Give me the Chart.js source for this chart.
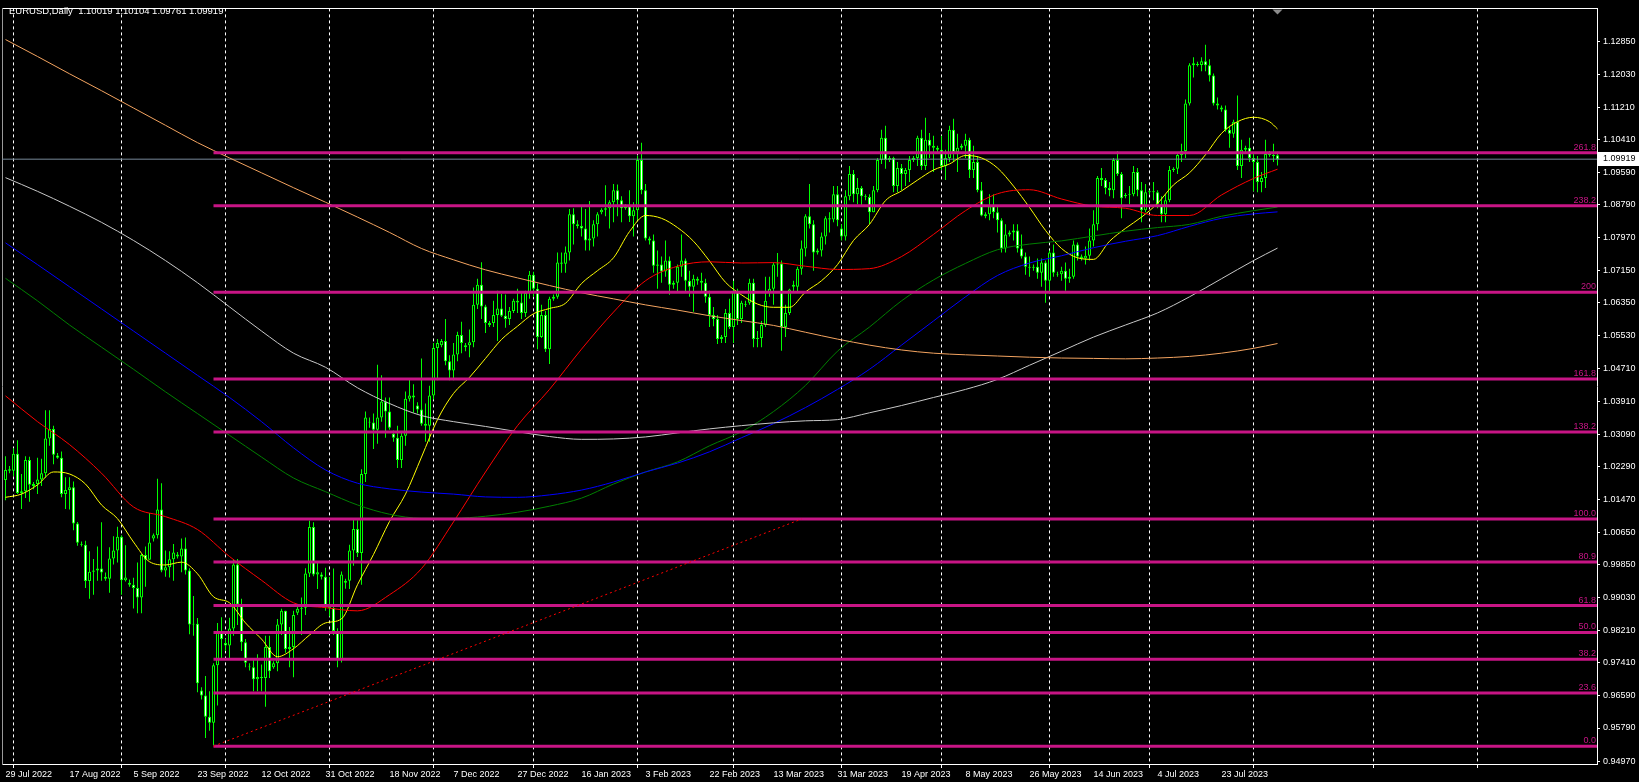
<!DOCTYPE html>
<html>
<head>
<meta charset="utf-8">
<script src="https://cdn.jsdelivr.net/npm/chart.js@4.4.1/dist/chart.umd.min.js"></script>
<style>
  html, body { margin: 0; padding: 0; background: #000; }
  canvas { display: block; }
</style>
</head>
<body>
<canvas id="chart" width="1639" height="782"></canvas>
<script>
// EURUSD daily bars, 29 Jul 2022 .. 8 Aug 2023 (broker also prints Sunday sessions)
var symbol = 'EURUSD,Daily';

var opens = [
  1.0195, 1.0222, 1.0218, 1.0260, 1.0163, 1.0167, 1.0245, 1.0180, 1.0185, 1.0196,
  1.0212, 1.0298, 1.0322, 1.0256, 1.0250, 1.0160, 1.0170, 1.0177, 1.0087, 1.0036,
  1.0034, 0.9944, 0.9967, 0.9970, 0.9975, 0.9955, 0.9950, 1.0000, 1.0020, 1.0054,
  0.9946, 0.9940, 0.9935, 0.9927, 0.9903, 1.0009, 0.9997, 1.0050, 1.0058, 1.0122,
  0.9970, 0.9978, 0.9998, 1.0010, 1.0005, 1.0025, 0.9970, 0.9836, 0.9838, 0.9672,
  0.9660, 0.9607, 0.9592, 0.9735, 0.9815, 0.9790, 0.9784, 0.9826, 0.9985, 0.9886,
  0.9792, 0.9732, 0.9730, 0.9700, 0.9706, 0.9703, 0.9780, 0.9730, 0.9740, 0.9836,
  0.9870, 0.9775, 0.9780, 0.9865, 0.9875, 0.9878, 0.9963, 1.0078, 0.9960, 0.9960,
  0.9955, 0.9882, 0.9877, 0.9820, 0.9750, 0.9940, 0.9945, 1.0020, 1.0073, 1.0014,
  1.0210, 1.0340, 1.0338, 1.0320, 1.0350, 1.0390, 1.0365, 1.0310, 1.0300, 1.0245,
  1.0305, 1.0397, 1.0405, 1.0380, 1.0370, 1.0335, 1.0330, 1.0405, 1.0523, 1.0530,
  1.0540, 1.0490, 1.0467, 1.0507, 1.0555, 1.0525, 1.0530, 1.0537, 1.0630, 1.0680,
  1.0626, 1.0580, 1.0585, 1.0605, 1.0621, 1.0603, 1.0595, 1.0615, 1.0640, 1.0636,
  1.0610, 1.0660, 1.0705, 1.0670, 1.0550, 1.0605, 1.0520, 1.0645, 1.0650, 1.0735,
  1.0732, 1.0760, 1.0855, 1.0830, 1.0826, 1.0820, 1.0790, 1.0795, 1.0830, 1.0860,
  1.0866, 1.0870, 1.0885, 1.0915, 1.0890, 1.0870, 1.0875, 1.0850, 1.0865, 1.0990,
  1.0915, 1.0795, 1.0790, 1.0727, 1.0730, 1.0713, 1.0740, 1.0680, 1.0685, 1.0725,
  1.0740, 1.0690, 1.0675, 1.0695, 1.0690, 1.0685, 1.0650, 1.0605, 1.0595, 1.0545,
  1.0550, 1.0610, 1.0575, 1.0665, 1.0595, 1.0630, 1.0635, 1.0685, 1.0545, 1.0548,
  1.0580, 1.0660, 1.0670, 1.0730, 1.0733, 1.0575, 1.0610, 1.0680, 1.0675, 1.0720,
  1.0770, 1.0850, 1.0830, 1.0760, 1.0765, 1.0800, 1.0845, 1.0842, 1.0905, 1.0820,
  1.0800, 1.0900, 1.0955, 1.0905, 1.0920, 1.0900, 1.0898, 1.0860, 1.0915, 1.0990,
  1.1045, 1.0990, 1.0995, 1.0925, 1.0970, 1.0955, 1.0965, 1.0990, 1.0995, 1.1045,
  1.0975, 1.1040, 1.1025, 1.1020, 1.1015, 1.0975, 1.0995, 1.1065, 1.1010, 1.1020,
  1.1025, 1.1040, 1.0965, 1.0985, 1.0915, 1.0850, 1.0855, 1.0875, 1.0860, 1.0840,
  1.0770, 1.0805, 1.0810, 1.0815, 1.0770, 1.0750, 1.0725, 1.0722, 1.0725, 1.0710,
  1.0735, 1.0690, 1.0760, 1.0705, 1.0706, 1.0715, 1.0695, 1.0700, 1.0780, 1.0750,
  1.0745, 1.0752, 1.0790, 1.0830, 1.0945, 1.0940, 1.0920, 1.0915, 1.0990, 1.0955,
  1.0900, 1.0903, 1.0905, 1.0960, 1.0915, 1.0865, 1.0910, 1.0912, 1.0910, 1.0880,
  1.0855, 1.0890, 1.0965, 1.0968, 1.1002, 1.1012, 1.1130, 1.1225, 1.1228, 1.1226,
  1.1235, 1.1225, 1.1200, 1.1130, 1.1120, 1.1115, 1.1065, 1.1055, 1.1085, 1.0975,
  1.1015, 1.1020, 1.0995, 1.0985, 1.0935, 1.0945, 1.1005, 1.1002, 1.10019
];
var highs = [
  1.0254, 1.0230, 1.0274, 1.0294, 1.0210, 1.0254, 1.0253, 1.0190, 1.0250, 1.0248,
  1.0368, 1.0368, 1.0330, 1.0262, 1.0266, 1.0202, 1.0202, 1.0191, 1.0091, 1.0042,
  1.0044, 1.0018, 0.9999, 1.0030, 1.0090, 0.9965, 1.0028, 1.0055, 1.0079, 1.0058,
  1.0033, 0.9948, 0.9952, 0.9990, 1.0012, 1.0030, 1.0113, 1.0062, 1.0198, 1.0187,
  1.0020, 1.0018, 1.0036, 1.0016, 1.0050, 1.0052, 0.9976, 0.9907, 0.9852, 0.9680,
  0.9708, 0.9670, 0.9740, 0.9840, 0.9854, 0.9800, 0.9853, 0.9999, 0.9999, 0.9900,
  0.9800, 0.9740, 0.9748, 0.9762, 0.9737, 0.9808, 0.9808, 0.9745, 0.9850, 0.9875,
  0.9870, 0.9830, 0.9870, 0.9880, 0.9903, 0.9976, 1.0094, 1.0090, 0.9990, 0.9966,
  0.9977, 0.9954, 0.9975, 0.9827, 0.9968, 0.9950, 1.0034, 1.0096, 1.0095, 1.0222,
  1.0365, 1.0350, 1.0360, 1.0481, 1.0455, 1.0400, 1.0400, 1.0318, 1.0330, 1.0315,
  1.0415, 1.0448, 1.0433, 1.0388, 1.0497, 1.0385, 1.0429, 1.0535, 1.0545, 1.0545,
  1.0595, 1.0505, 1.0535, 1.0563, 1.0588, 1.0535, 1.0569, 1.0673, 1.0695, 1.0736,
  1.0630, 1.0590, 1.0640, 1.0665, 1.0657, 1.0656, 1.0625, 1.0645, 1.0670, 1.0660,
  1.0665, 1.0714, 1.0712, 1.0683, 1.0630, 1.0615, 1.0650, 1.0656, 1.0760, 1.0760,
  1.0775, 1.0868, 1.0870, 1.0840, 1.0875, 1.0868, 1.0888, 1.0840, 1.0860, 1.0870,
  1.0927, 1.0890, 1.0930, 1.0929, 1.0900, 1.0880, 1.0915, 1.0885, 1.1000, 1.1033,
  1.0930, 1.0800, 1.0805, 1.0765, 1.0750, 1.0790, 1.0750, 1.0690, 1.0730, 1.0805,
  1.0745, 1.0715, 1.0705, 1.0700, 1.0710, 1.0695, 1.0665, 1.0625, 1.0605, 1.0555,
  1.0620, 1.0645, 1.0690, 1.0670, 1.0640, 1.0640, 1.0695, 1.0695, 1.0565, 1.0590,
  1.0700, 1.0700, 1.0735, 1.0759, 1.0740, 1.0630, 1.0670, 1.0690, 1.0725, 1.0790,
  1.0855, 1.0930, 1.0840, 1.0770, 1.0810, 1.0850, 1.0860, 1.0925, 1.0925, 1.0830,
  1.0915, 1.0975, 1.0965, 1.0945, 1.0925, 1.0905, 1.0905, 1.0925, 1.0995, 1.1065,
  1.1075, 1.1000, 1.0998, 1.0985, 1.0980, 1.0970, 1.1000, 1.1000, 1.1050, 1.1065,
  1.1095, 1.1057, 1.1050, 1.1025, 1.1050, 1.1015, 1.1075, 1.1092, 1.1055, 1.1030,
  1.1055, 1.1045, 1.1025, 1.1000, 1.0935, 1.0860, 1.0905, 1.0905, 1.0875, 1.0845,
  1.0830, 1.0815, 1.0830, 1.0830, 1.0805, 1.0760, 1.0750, 1.0730, 1.0745, 1.0745,
  1.0740, 1.0765, 1.0780, 1.0712, 1.0725, 1.0735, 1.0720, 1.0790, 1.0785, 1.0755,
  1.0775, 1.0820, 1.0865, 1.0950, 1.0970, 1.0945, 1.0935, 1.0995, 1.1012, 1.0960,
  1.0908, 1.0925, 1.0975, 1.0970, 1.0935, 1.0930, 1.0915, 1.0935, 1.0915, 1.0900,
  1.0905, 1.0975, 1.0972, 1.1010, 1.1030, 1.1140, 1.1230, 1.1245, 1.1234, 1.1245,
  1.1276, 1.1240, 1.1205, 1.1145, 1.1125, 1.1125, 1.1075, 1.1090, 1.1150, 1.1040,
  1.1025, 1.1045, 1.1010, 1.1000, 1.0960, 1.1040, 1.1012, 1.1030, 1.10104
];
var lows = [
  1.0145, 1.0212, 1.0205, 1.0160, 1.0123, 1.0150, 1.0141, 1.0172, 1.0160, 1.0180,
  1.0202, 1.0280, 1.0234, 1.0248, 1.0152, 1.0123, 1.0122, 1.0070, 1.0032, 1.0030,
  0.9927, 0.9900, 0.9910, 0.9945, 0.9945, 0.9945, 0.9915, 0.9985, 0.9990, 0.9910,
  0.9943, 0.9930, 0.9876, 0.9864, 0.9864, 0.9930, 0.9997, 1.0042, 1.0050, 0.9966,
  0.9955, 0.9953, 0.9945, 1.0000, 0.9966, 0.9960, 0.9812, 0.9808, 0.9668, 0.9650,
  0.9554, 0.9572, 0.9536, 0.9635, 0.9748, 0.9770, 0.9750, 0.9808, 0.9835, 0.9770,
  0.9730, 0.9722, 0.9670, 0.9670, 0.9670, 0.9632, 0.9703, 0.9726, 0.9720, 0.9810,
  0.9766, 0.9730, 0.9705, 0.9860, 0.9810, 0.9860, 0.9954, 0.9956, 0.9924, 0.9948,
  0.9870, 0.9856, 0.9810, 0.9730, 0.9742, 0.9925, 0.9924, 0.9982, 1.0004, 0.9935,
  1.0190, 1.0325, 1.0272, 1.0285, 1.0340, 1.0300, 1.0320, 1.0290, 1.0225, 1.0225,
  1.0280, 1.0390, 1.0362, 1.0360, 1.0330, 1.0290, 1.0290, 1.0395, 1.0443, 1.0525,
  1.0480, 1.0443, 1.0443, 1.0490, 1.0510, 1.0515, 1.0500, 1.0525, 1.0620, 1.0595,
  1.0560, 1.0575, 1.0575, 1.0540, 1.0600, 1.0573, 1.0580, 1.0610, 1.0610, 1.0595,
  1.0600, 1.0645, 1.0650, 1.0520, 1.0548, 1.0513, 1.0483, 1.0640, 1.0645, 1.0710,
  1.0710, 1.0740, 1.0780, 1.0820, 1.0800, 1.0765, 1.0765, 1.0775, 1.0800, 1.0855,
  1.0850, 1.0820, 1.0835, 1.0850, 1.0835, 1.0866, 1.0836, 1.0800, 1.0840, 1.0905,
  1.0790, 1.0780, 1.0710, 1.0670, 1.0685, 1.0700, 1.0655, 1.0670, 1.0660, 1.0700,
  1.0660, 1.0650, 1.0613, 1.0680, 1.0665, 1.0635, 1.0575, 1.0577, 1.0533, 1.0535,
  1.0535, 1.0570, 1.0535, 1.0580, 1.0585, 1.0625, 1.0630, 1.0525, 1.0525, 1.0525,
  1.0575, 1.0650, 1.0630, 1.0700, 1.0516, 1.0550, 1.0605, 1.0660, 1.0660, 1.0705,
  1.0750, 1.0820, 1.0715, 1.0755, 1.0750, 1.0780, 1.0810, 1.0835, 1.0825, 1.0790,
  1.0790, 1.0890, 1.0885, 1.0880, 1.0875, 1.0890, 1.0830, 1.0860, 1.0910, 1.0980,
  1.0968, 1.0985, 1.0910, 1.0910, 1.0915, 1.0925, 1.0935, 1.0985, 1.0975, 1.0965,
  1.0965, 1.0995, 1.0960, 1.1010, 1.0965, 1.0940, 1.0985, 1.0985, 1.0960, 1.1015,
  1.0995, 1.0945, 1.0945, 1.0910, 1.0850, 1.0845, 1.0840, 1.0845, 1.0810, 1.0760,
  1.0760, 1.0800, 1.0790, 1.0760, 1.0745, 1.0705, 1.0700, 1.0715, 1.0695, 1.0675,
  1.0635, 1.0660, 1.0700, 1.0700, 1.0690, 1.0665, 1.0685, 1.0695, 1.0740, 1.0740,
  1.0730, 1.0740, 1.0775, 1.0815, 1.0925, 1.0905, 1.0900, 1.0895, 1.0950, 1.0845,
  1.0895, 1.0880, 1.0900, 1.0900, 1.0835, 1.0860, 1.0905, 1.0890, 1.0870, 1.0835,
  1.0835, 1.0885, 1.0960, 1.0955, 1.0985, 1.0995, 1.1125, 1.1195, 1.1222, 1.1210,
  1.1210, 1.1185, 1.1125, 1.1115, 1.1110, 1.1060, 1.1020, 1.1045, 1.0965, 1.0945,
  1.1010, 1.0985, 1.0912, 1.0910, 1.0910, 1.0920, 1.0998, 1.0985, 1.09761
];
var closes = [
  1.0220, 1.0218, 1.0260, 1.0163, 1.0167, 1.0245, 1.0183, 1.0185, 1.0196, 1.0212,
  1.0298, 1.0322, 1.0258, 1.0250, 1.0160, 1.0170, 1.0177, 1.0087, 1.0039, 1.0034,
  0.9944, 0.9967, 0.9970, 0.9975, 0.9965, 0.9950, 1.0000, 1.0020, 1.0054, 0.9946,
  0.9953, 0.9935, 0.9927, 0.9903, 1.0009, 0.9997, 1.0040, 1.0058, 1.0122, 0.9970,
  0.9978, 0.9998, 1.0015, 1.0005, 1.0025, 0.9970, 0.9836, 0.9838, 0.9690, 0.9660,
  0.9607, 0.9592, 0.9735, 0.9815, 0.9800, 0.9784, 0.9826, 0.9985, 0.9886, 0.9792,
  0.9741, 0.9730, 0.9700, 0.9706, 0.9703, 0.9780, 0.9720, 0.9740, 0.9836, 0.9870,
  0.9775, 0.9780, 0.9860, 0.9875, 0.9878, 0.9963, 1.0078, 0.9960, 0.9966, 0.9955,
  0.9882, 0.9877, 0.9820, 0.9750, 0.9960, 0.9945, 1.0020, 1.0073, 1.0014, 1.0210,
  1.0350, 1.0338, 1.0320, 1.0350, 1.0390, 1.0365, 1.0325, 1.0300, 1.0245, 1.0305,
  1.0397, 1.0405, 1.0400, 1.0370, 1.0335, 1.0330, 1.0405, 1.0523, 1.0535, 1.0540,
  1.0490, 1.0467, 1.0507, 1.0555, 1.0535, 1.0530, 1.0537, 1.0630, 1.0680, 1.0626,
  1.0585, 1.0585, 1.0605, 1.0621, 1.0603, 1.0595, 1.0615, 1.0640, 1.0636, 1.0610,
  1.0660, 1.0705, 1.0670, 1.0550, 1.0605, 1.0520, 1.0645, 1.0650, 1.0735, 1.0732,
  1.0760, 1.0855, 1.0830, 1.0826, 1.0820, 1.0790, 1.0795, 1.0830, 1.0855, 1.0866,
  1.0870, 1.0885, 1.0915, 1.0890, 1.0870, 1.0875, 1.0850, 1.0865, 1.0990, 1.0915,
  1.0795, 1.0790, 1.0727, 1.0730, 1.0713, 1.0740, 1.0680, 1.0685, 1.0725, 1.0740,
  1.0690, 1.0675, 1.0695, 1.0690, 1.0685, 1.0650, 1.0605, 1.0595, 1.0545, 1.0550,
  1.0610, 1.0575, 1.0665, 1.0595, 1.0635, 1.0632, 1.0685, 1.0545, 1.0548, 1.0580,
  1.0640, 1.0670, 1.0730, 1.0733, 1.0575, 1.0610, 1.0668, 1.0675, 1.0720, 1.0770,
  1.0850, 1.0830, 1.0760, 1.0765, 1.0800, 1.0845, 1.0842, 1.0905, 1.0840, 1.0800,
  1.0900, 1.0955, 1.0905, 1.0920, 1.0900, 1.0898, 1.0860, 1.0915, 1.0990, 1.1045,
  1.0990, 1.0995, 1.0925, 1.0970, 1.0955, 1.0965, 1.0990, 1.0995, 1.1045, 1.0975,
  1.1040, 1.1025, 1.1020, 1.1015, 1.0975, 1.0995, 1.1065, 1.1010, 1.1020, 1.1025,
  1.1040, 1.0965, 1.0985, 1.0915, 1.0852, 1.0855, 1.0875, 1.0860, 1.0840, 1.0770,
  1.0805, 1.0810, 1.0815, 1.0770, 1.0750, 1.0725, 1.0722, 1.0725, 1.0710, 1.0735,
  1.0690, 1.0760, 1.0710, 1.0706, 1.0715, 1.0695, 1.0700, 1.0780, 1.0750, 1.0745,
  1.0752, 1.0790, 1.0830, 1.0945, 1.0940, 1.0920, 1.0915, 1.0990, 1.0955, 1.0895,
  1.0903, 1.0905, 1.0960, 1.0915, 1.0865, 1.0910, 1.0912, 1.0910, 1.0880, 1.0855,
  1.0890, 1.0965, 1.0968, 1.1002, 1.1012, 1.1130, 1.1225, 1.1230, 1.1226, 1.1235,
  1.1225, 1.1200, 1.1130, 1.1125, 1.1115, 1.1065, 1.1055, 1.1085, 1.0975, 1.1015,
  1.1020, 1.0995, 1.0985, 1.0935, 1.0945, 1.1005, 1.1002, 1.1000, 1.09919
];

// time axis: label text starts at its bar; month starts get the dotted separators
var dateLabels = ['29 Jul 2022', '17 Aug 2022', '5 Sep 2022', '23 Sep 2022', '12 Oct 2022',
  '31 Oct 2022', '18 Nov 2022', '7 Dec 2022', '27 Dec 2022', '16 Jan 2023', '3 Feb 2023',
  '22 Feb 2023', '13 Mar 2023', '31 Mar 2023', '19 Apr 2023', '8 May 2023', '26 May 2023',
  '14 Jun 2023', '4 Jul 2023', '23 Jul 2023'];
var dateBars = [0, 16, 32, 48, 64, 80, 96, 112, 128, 144, 160, 176, 192, 208, 224, 240, 256, 272, 288, 304];
var monthBars = [2, 29, 55, 81, 107, 132, 158, 182, 209, 234, 261, 286, 312, 342, 368];

var priceTicks = [1.12850, 1.12030, 1.11210, 1.10410, 1.09590, 1.08790, 1.07970, 1.07150,
  1.06350, 1.05530, 1.04710, 1.03910, 1.03090, 1.02290, 1.01470, 1.00650, 0.99850,
  0.99030, 0.98210, 0.97410, 0.96590, 0.95790, 0.94970];

// fibonacci levels drawn from the 28 Sep 2022 low
var fibNames = ['0.0', '23.6', '38.2', '50.0', '61.8', '80.9', '100.0', '138.2', '161.8', '200', '238.2', '261.8'];
var fibLevels = [0.95339, 0.96662, 0.97500, 0.98165, 0.98830, 0.99913, 1.00980, 1.03140, 1.04460, 1.06613, 1.08763, 1.10076];
var fibStartBar = 52;
var trendBars = [52, 199];
var trendPrices = [0.95339, 1.00980];

// moving averages
var maBars = [0, 8, 16, 24, 32, 40, 48, 56, 64, 72, 80, 88, 96, 104, 112, 120, 128, 136, 144, 152,
  160, 168, 176, 184, 192, 200, 208, 216, 224, 232, 240, 248, 256, 264, 272, 280, 288, 296, 304, 312, 318];
var maRed = [1.0404, 1.0340, 1.0283, 1.0212, 1.0128, 1.0104, 1.0072, 1.0005, 0.9946, 0.9890,
  0.9878, 0.9870, 0.9910, 0.9975, 1.0091, 1.0215, 1.0330, 1.0420, 1.0520, 1.0612,
  1.0690, 1.0726, 1.0737, 1.0734, 1.0735, 1.0726, 1.0718, 1.0720, 1.0750, 1.0805,
  1.0864, 1.0906, 1.0916, 1.0893, 1.0875, 1.0870, 1.0852, 1.0852, 1.0903, 1.0944, 1.0967];
var maGreen = [1.0696, 1.0640, 1.0580, 1.0525, 1.0470, 1.0414, 1.0360, 1.0306, 1.0252, 1.0200,
  1.0166, 1.0133, 1.0110, 1.0100, 1.0100, 1.0105, 1.0115, 1.0130, 1.0150, 1.0185,
  1.0215, 1.0240, 1.0280, 1.0315, 1.0365, 1.0430, 1.0515, 1.0575, 1.0640, 1.0692,
  1.0733, 1.0767, 1.0781, 1.0789, 1.0801, 1.0813, 1.0822, 1.0830, 1.0850, 1.0864, 1.0873];
var maBlue = [1.0784, 1.0730, 1.0675, 1.0620, 1.0565, 1.0510, 1.0455, 1.0400, 1.0340, 1.0275,
  1.0220, 1.0187, 1.0173, 1.0165, 1.0160, 1.0153, 1.0152, 1.0158, 1.0170, 1.0190,
  1.0215, 1.0237, 1.0265, 1.0300, 1.0335, 1.0375, 1.0420, 1.0470, 1.0530, 1.0590,
  1.0650, 1.0703, 1.0734, 1.0752, 1.0772, 1.0788, 1.0802, 1.0825, 1.0845, 1.0856, 1.0861];
var maSilver = [1.0946, 1.0912, 1.0875, 1.0835, 1.0790, 1.0740, 1.0685, 1.0625, 1.0565, 1.0510,
  1.0475, 1.0424, 1.0385, 1.0355, 1.0340, 1.0328, 1.0315, 1.0303, 1.0296, 1.0297,
  1.0302, 1.0312, 1.0322, 1.0330, 1.0337, 1.0342, 1.0345, 1.0362, 1.0380, 1.0400,
  1.0420, 1.0445, 1.0480, 1.0515, 1.0550, 1.0580, 1.0610, 1.0650, 1.0695, 1.0740, 1.0771];
var maOrange = [1.1289, 1.1247, 1.1204, 1.1162, 1.1119, 1.1076, 1.1033, 1.0995, 1.0958, 1.0921,
  1.0885, 1.0848, 1.0810, 1.0770, 1.0742, 1.0717, 1.0697, 1.0678, 1.0660, 1.0645,
  1.0630, 1.0617, 1.0603, 1.0591, 1.0579, 1.0562, 1.0545, 1.0530, 1.0518, 1.0510,
  1.0506, 1.0503, 1.0500, 1.0498, 1.0497, 1.0496, 1.0498, 1.0502, 1.0510, 1.0522, 1.0534];
var yellowBars = [0, 4, 8, 12, 16, 20, 24, 28, 32, 36, 40, 44, 48, 52, 56, 60, 64, 68, 72, 76,
  80, 84, 88, 92, 96, 100, 104, 108, 112, 116, 120, 124, 128, 132, 136, 140, 144, 148, 152, 156,
  160, 164, 168, 172, 176, 180, 184, 188, 192, 196, 200, 204, 208, 212, 216, 220, 224, 228, 232, 236,
  240, 244, 248, 252, 256, 260, 264, 268, 272, 276, 280, 284, 288, 292, 296, 300, 304, 308, 312, 316, 318];
var maYellow = [1.0152, 1.0160, 1.0183, 1.0215, 1.0210, 1.0185, 1.0133, 1.0099, 1.0041, 0.9992,
  0.9984, 0.9991, 0.9962, 0.9905, 0.9890, 0.9840, 0.9800, 0.9756, 0.9776, 0.9810,
  0.9840, 0.9850, 0.9935, 1.0010, 1.0092, 1.0160, 1.0252, 1.0345, 1.0410, 1.0450,
  1.0497, 1.0544, 1.0577, 1.0608, 1.0621, 1.0634, 1.0683, 1.0715, 1.0747, 1.0812,
  1.0852, 1.0845, 1.0822, 1.0788, 1.0739, 1.0686, 1.0655, 1.0632, 1.0624, 1.0624,
  1.0662, 1.0690, 1.0730, 1.0790, 1.0830, 1.0889, 1.0913, 1.0940, 1.0965, 1.0980,
  1.1001, 1.0995, 1.0970, 1.0925, 1.0872, 1.0815, 1.0770, 1.0747, 1.0743, 1.0788,
  1.0820, 1.0848, 1.0882, 1.0928, 1.0958, 1.1003, 1.1056, 1.1085, 1.1096, 1.1085, 1.1067];

var xMin = -0.875, xMax = 397.875;
var yMin = 0.94896, yMax = 1.13664;
var fontFamily = '"Liberation Sans", Arial, sans-serif';
var lime = '#00ff00', fibColor = '#c71585';

function pts(xs, ys) {
  return xs.map(function (x, k) { return { x: x, y: ys[k] }; });
}

var wicks = [], bodies = [], bodyFill = [];
for (var i = 0; i < closes.length; i++) {
  wicks.push({ x: i, y: [lows[i], highs[i]] });
  bodies.push({ x: i, y: [opens[i], closes[i]] });
  bodyFill.push(closes[i] >= opens[i] ? '#000000' : '#ffffff');
}
var last = closes.length - 1;

var xTicks = [];
dateBars.forEach(function (b, k) { xTicks.push({ value: b, text: dateLabels[k], month: false }); });
monthBars.forEach(function (b) { xTicks.push({ value: b, text: '', month: true }); });
xTicks.sort(function (a, b) { return a.value - b.value; });

function maLine(xs, ys, color) {
  return {
    type: 'line', data: pts(xs, ys), borderColor: color, borderWidth: 1,
    pointRadius: 0, cubicInterpolationMode: 'monotone', order: 5
  };
}

var datasets = [
  { type: 'bar', data: wicks, backgroundColor: lime, borderWidth: 0, barThickness: 1,
    grouped: false, inflateAmount: 0, order: 11 },
  { type: 'bar', data: bodies, backgroundColor: bodyFill, borderColor: lime, borderWidth: 1,
    borderSkipped: false, barThickness: 3, grouped: false, inflateAmount: 0, order: 10 },
  maLine(maBars, maOrange, '#f4a460'),
  maLine(maBars, maSilver, '#c8c8c8'),
  maLine(maBars, maBlue, '#0000ff'),
  maLine(maBars, maGreen, '#008000'),
  maLine(maBars, maRed, '#ff0000'),
  maLine(yellowBars, maYellow, '#ffff00'),
  { type: 'line', data: [{ x: xMin, y: closes[last] }, { x: xMax, y: closes[last] }],
    borderColor: '#778899', borderWidth: 1, pointRadius: 0, order: 6 },
  { type: 'line', data: pts(trendBars, trendPrices), borderColor: '#ff0000', borderWidth: 1,
    borderDash: [2, 3], pointRadius: 0, order: 1 }
];
fibLevels.forEach(function (v) {
  datasets.push({ type: 'line', data: [{ x: fibStartBar, y: v }, { x: xMax, y: v }],
    borderColor: fibColor, borderWidth: 3, pointRadius: 0, order: 2 });
});

var overlay = {
  id: 'overlay',
  afterDatasetsDraw: function (chart) {
    var ctx = chart.ctx, area = chart.chartArea, ys = chart.scales.y, xs = chart.scales.x;
    ctx.save();
    ctx.font = '9px ' + fontFamily;
    ctx.fillStyle = fibColor;
    ctx.textAlign = 'right';
    ctx.textBaseline = 'alphabetic';
    fibLevels.forEach(function (v, k) {
      ctx.fillText(fibNames[k], area.right - 1, ys.getPixelForValue(v) - 3);
    });
    ctx.font = '9.5px ' + fontFamily;
    ctx.fillStyle = '#ffffff';
    ctx.textAlign = 'left';
    var head = symbol + '  ' + [opens[last], highs[last], lows[last], closes[last]]
      .map(function (v) { return v.toFixed(5); }).join(' ');
    ctx.fillText(head, 9, 14);
    // chart-shift marker above the last bar
    var sx = xs.getPixelForValue(last);
    ctx.fillStyle = '#8c8c8c';
    ctx.beginPath();
    ctx.moveTo(sx - 5, area.top + 1);
    ctx.lineTo(sx + 5, area.top + 1);
    ctx.lineTo(sx, area.top + 6);
    ctx.closePath();
    ctx.fill();
    ctx.restore();
  },
  afterDraw: function (chart) {
    var ctx = chart.ctx, area = chart.chartArea, ys = chart.scales.y;
    var py = Math.round(ys.getPixelForValue(closes[last]));
    ctx.save();
    ctx.fillStyle = '#ffffff';
    ctx.fillRect(area.right + 1, py - 7, chart.width - area.right - 1, 14);
    ctx.fillStyle = '#000000';
    ctx.font = '9px ' + fontFamily;
    ctx.textBaseline = 'middle';
    ctx.fillText(closes[last].toFixed(5), area.right + 6, py);
    ctx.restore();
  }
};

new Chart(document.getElementById('chart').getContext('2d'), {
  type: 'line',
  data: { datasets: datasets },
  plugins: [overlay],
  options: {
    responsive: false,
    animation: false,
    events: [],
    layout: { padding: { left: 2, top: 2, right: 0, bottom: 0 } },
    plugins: { legend: { display: false }, tooltip: { enabled: false } },
    scales: {
      x: {
        type: 'linear', min: xMin, max: xMax, offset: false,
        afterBuildTicks: function (s) { s.ticks = xTicks.slice(); },
        afterFit: function (s) { s.height = 18; },
        ticks: {
          align: 'start', autoSkip: false, maxRotation: 0, padding: 1, color: '#ffffff',
          font: { family: fontFamily, size: 9 },
          callback: function (v, k, t) { return t[k].text; }
        },
        grid: {
          offset: false, lineWidth: 1, tickLength: 4,
          color: function (c) { return c.tick && c.tick.month ? '#ffffff' : 'rgba(0,0,0,0)'; },
          tickColor: function (c) { return c.tick && c.tick.month ? '#ffffff' : 'rgba(0,0,0,0)'; }
        },
        border: { color: '#ffffff', width: 1, dash: [3, 3] }
      },
      y: {
        type: 'linear', position: 'right', min: yMin, max: yMax,
        afterBuildTicks: function (s) { s.ticks = priceTicks.map(function (v) { return { value: v }; }); },
        afterFit: function (s) { s.width = 42; },
        ticks: {
          color: '#ffffff', padding: 3, font: { family: fontFamily, size: 9 },
          callback: function (v) { return v.toFixed(5); }
        },
        grid: { drawOnChartArea: false, tickLength: 3, tickColor: '#ffffff' },
        border: { color: '#ffffff', width: 1 }
      },
      xTop: {
        type: 'linear', axis: 'x', position: 'top',
        ticks: { display: false }, grid: { display: false },
        border: { color: '#ffffff', width: 1 },
        afterFit: function (s) { s.height = 0; }
      },
      yLeft: {
        type: 'linear', axis: 'y', position: 'left',
        ticks: { display: false }, grid: { display: false },
        border: { color: '#9a9a9a', width: 1 },
        afterFit: function (s) { s.width = 0; }
      }
    }
  }
});
</script>
</body>
</html>
